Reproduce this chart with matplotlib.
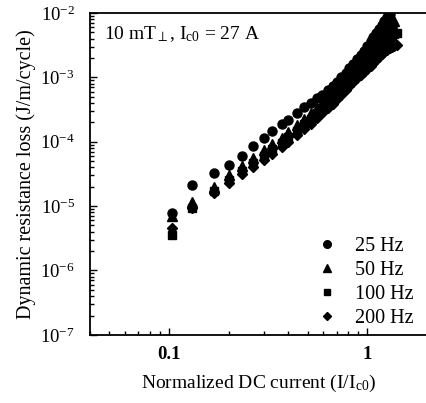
import numpy as np
import matplotlib
matplotlib.use("Agg")
import matplotlib.pyplot as plt
from matplotlib import ticker
from matplotlib.lines import Line2D

plt.rcParams['font.family'] = ['Liberation Serif', 'DejaVu Serif']
plt.rcParams['mathtext.fontset'] = 'custom'
plt.rcParams['mathtext.rm'] = 'Liberation Serif'
plt.rcParams['mathtext.it'] = 'Liberation Serif:italic'

# Normalized DC current (I/Ic0)
x_25 = [0.104, 0.131, 0.168, 0.20, 0.234, 0.266, 0.30, 0.33, 0.37, 0.40, 0.44, 0.48,
        0.52, 0.56, 0.59, 0.63, 0.67, 0.70, 0.74, 0.78, 0.81, 0.85, 0.89, 0.93,
        0.96, 1.00, 1.04, 1.07, 1.11, 1.15, 1.19, 1.22, 1.26, 1.30]
loss_25 = [7.9e-6, 2.1e-5, 3.3e-5, 4.4e-5, 6.0e-5, 8.5e-5, 1.15e-4, 1.45e-4, 1.85e-4,
           2.2e-4, 2.8e-4, 3.4e-4, 4.0e-4, 4.7e-4, 5.4e-4, 6.3e-4, 7.4e-4, 8.6e-4,
           1.0e-3, 1.18e-3, 1.38e-3, 1.6e-3, 1.9e-3, 2.25e-3, 2.6e-3, 3.05e-3,
           3.6e-3, 4.2e-3, 4.9e-3, 5.7e-3, 6.6e-3, 7.5e-3, 8.5e-3, 9.5e-3]

x_50 = [0.104, 0.131, 0.168, 0.20, 0.234, 0.266, 0.30, 0.33, 0.37, 0.40, 0.44, 0.48,
        0.52, 0.56, 0.59, 0.63, 0.67, 0.70, 0.74, 0.78, 0.81, 0.85, 0.89, 0.93,
        0.96, 1.00, 1.04, 1.07, 1.11, 1.15, 1.19, 1.22, 1.26, 1.30, 1.33, 1.37]
loss_50 = [7.0e-6, 1.17e-5, 2.0e-5, 3.0e-5, 4.2e-5, 5.6e-5, 7.3e-5, 9.2e-5, 1.15e-4,
           1.42e-4, 1.8e-4, 2.25e-4, 2.75e-4, 3.3e-4, 3.95e-4, 4.7e-4, 5.6e-4, 6.6e-4,
           7.8e-4, 9.2e-4, 1.08e-3, 1.26e-3, 1.47e-3, 1.7e-3, 1.97e-3, 2.28e-3,
           2.62e-3, 3.0e-3, 3.45e-3, 3.95e-3, 4.5e-3, 5.1e-3, 5.75e-3, 6.4e-3,
           7.0e-3, 7.5e-3]

x_100 = [0.104, 0.131, 0.168, 0.20, 0.234, 0.266, 0.30, 0.33, 0.37, 0.40, 0.44, 0.48,
         0.52, 0.56, 0.59, 0.63, 0.67, 0.70, 0.74, 0.78, 0.81, 0.85, 0.89, 0.93,
         0.96, 1.00, 1.04, 1.07, 1.11, 1.15, 1.19, 1.22, 1.26, 1.30, 1.33, 1.37, 1.41]
loss_100 = [3.6e-6, 9.5e-6, 1.7e-5, 2.5e-5, 3.5e-5, 4.6e-5, 6.0e-5, 7.6e-5, 9.6e-5,
            1.18e-4, 1.48e-4, 1.85e-4, 2.27e-4, 2.75e-4, 3.3e-4, 3.95e-4, 4.7e-4,
            5.5e-4, 6.5e-4, 7.6e-4, 8.8e-4, 1.02e-3, 1.18e-3, 1.35e-3, 1.53e-3,
            1.73e-3, 1.96e-3, 2.2e-3, 2.48e-3, 2.78e-3, 3.1e-3, 3.45e-3, 3.8e-3,
            4.15e-3, 4.45e-3, 4.7e-3, 4.9e-3]

x_200 = [0.104, 0.131, 0.168, 0.20, 0.234, 0.266, 0.30, 0.33, 0.37, 0.40, 0.44, 0.48,
         0.52, 0.56, 0.59, 0.63, 0.67, 0.70, 0.74, 0.78, 0.81, 0.85, 0.89, 0.93,
         0.96, 1.00, 1.04, 1.07, 1.11, 1.15, 1.19, 1.22, 1.26, 1.30, 1.33, 1.37, 1.41]
loss_200 = [4.5e-6, 9.3e-6, 1.6e-5, 2.3e-5, 3.1e-5, 4.0e-5, 5.2e-5, 6.5e-5, 8.2e-5,
            1.0e-4, 1.25e-4, 1.55e-4, 1.9e-4, 2.3e-4, 2.75e-4, 3.3e-4, 3.9e-4, 4.6e-4,
            5.4e-4, 6.3e-4, 7.3e-4, 8.4e-4, 9.6e-4, 1.08e-3, 1.2e-3, 1.33e-3, 1.5e-3,
            1.68e-3, 1.88e-3, 2.08e-3, 2.3e-3, 2.5e-3, 2.7e-3, 2.85e-3, 3.0e-3,
            3.1e-3, 3.2e-3]

series = [
    (x_25, loss_25, 'o', 6.5, '25 Hz'),
    (x_50, loss_50, '^', 6.5, '50 Hz'),
    (x_100, loss_100, 's', 5.5, '100 Hz'),
    (x_200, loss_200, 'D', 5.5, '200 Hz'),
]

fig = plt.figure(figsize=(4.27, 4.03), dpi=100)
ax = fig.add_axes([0.211, 0.169, 0.789, 0.799])

handles = []
for xs, ys, mk, ms, lab in series:
    ax.plot(xs, ys, linestyle='none', marker=mk, markersize=ms,
            color='black', markeredgecolor='black')
    # legend markers a bit smaller than in the plot
    handles.append(Line2D([], [], linestyle='none', marker=mk, markersize=ms - 1.0,
                          color='black', label=lab))

ax.set_xscale('log')
ax.set_yscale('log')
ax.set_xlim(0.04, 2.0)
ax.set_ylim(1e-7, 1e-2)

ax.spines['right'].set_visible(False)
for s in ['left', 'top', 'bottom']:
    ax.spines[s].set_linewidth(1.3)

ax.xaxis.set_major_locator(ticker.FixedLocator([0.1, 1.0]))
ax.xaxis.set_major_formatter(ticker.FixedFormatter(['0.1', '1']))
ax.xaxis.set_minor_locator(ticker.LogLocator(base=10, subs=np.arange(2, 10)))
ax.xaxis.set_minor_formatter(ticker.NullFormatter())
ax.yaxis.set_major_locator(ticker.LogLocator(base=10))
ax.yaxis.set_major_formatter(ticker.LogFormatterMathtext())
ax.yaxis.set_minor_locator(ticker.LogLocator(base=10, subs=np.arange(2, 10)))
ax.yaxis.set_minor_formatter(ticker.NullFormatter())

ax.tick_params(which='both', direction='in', top=False, right=False,
               labelsize=13.5, width=1.0)
ax.tick_params(which='major', length=5)
ax.tick_params(which='minor', length=3)
ax.tick_params(axis='x', pad=8)
ax.tick_params(axis='y', pad=11)
for lab in ax.get_xticklabels():
    lab.set_fontweight('bold')

ax.set_xlabel(r'Normalized DC current (I/I$_{\mathrm{c0}}$)', fontsize=14, labelpad=7)
ax.set_ylabel('Dynamic resistance loss (J/m/cycle)', fontsize=14.5, labelpad=3)

ax.text(0.04, 0.965, r'10 mT$_{\perp}$, I$_{\mathrm{c0}}$ = 27 A', transform=ax.transAxes,
        fontsize=14, va='top', ha='left')

ax.legend(handles=handles, loc='lower right', frameon=False, fontsize=14.5,
          handlelength=1.0, handletextpad=0.9, labelspacing=0.25,
          borderaxespad=0.0, bbox_to_anchor=(0.985, -0.005))

fig.savefig('out.png', dpi=100)
